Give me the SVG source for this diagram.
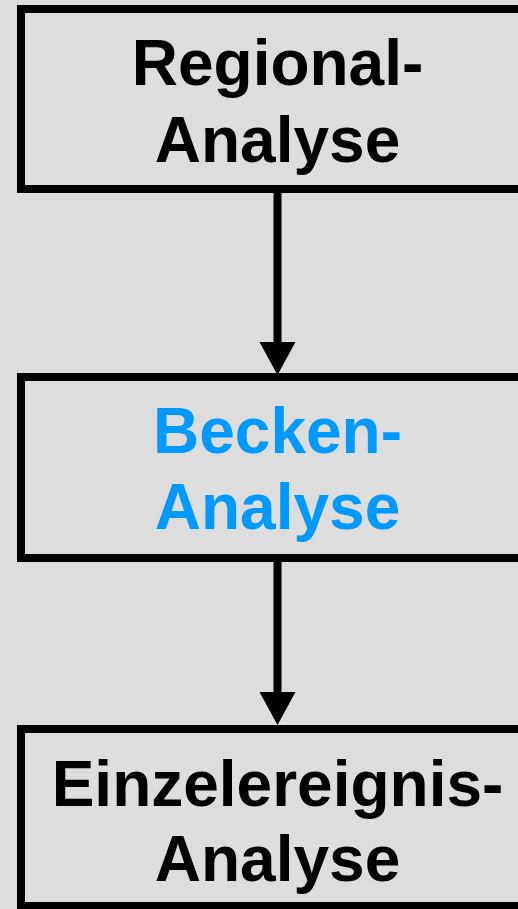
<svg xmlns="http://www.w3.org/2000/svg" width="518" height="909" viewBox="0 0 518 909">
  <style>
    .box { fill: #dddddd; stroke: #000000; stroke-width: 8; }
    .label { font-family: "Liberation Sans", Arial, Helvetica, sans-serif; font-weight: bold; font-size: 64px; text-anchor: middle; fill: #000000; }
    .label.hl { fill: #0099ff; }
    .edge { stroke: #000000; stroke-width: 8; fill: none; }
  </style>
  <defs>
    <marker id="arrow" markerUnits="userSpaceOnUse" markerWidth="40" markerHeight="40" viewBox="0 -20 36 40" refX="1" refY="0" orient="auto">
      <path d="M0,-18 L33,0 L0,18 z" fill="#000000"/>
    </marker>
  </defs>
  <rect width="518" height="909" fill="#dddddd"/>

  <g id="connectors">
    <line class="edge" x1="277.5" y1="193" x2="277.5" y2="343" marker-end="url(#arrow)"/>
    <line class="edge" x1="277.5" y1="562" x2="277.5" y2="693" marker-end="url(#arrow)"/>
  </g>

  <g id="regional-analyse">
    <rect class="box" x="21" y="9" width="540" height="180"/>
    <text class="label" x="277.5" y="85">Regional-</text>
    <text class="label" x="277.5" y="162">Analyse</text>
  </g>

  <g id="becken-analyse">
    <rect class="box" x="21" y="377" width="540" height="181"/>
    <text class="label hl" x="277.5" y="453">Becken-</text>
    <text class="label hl" x="277.5" y="529">Analyse</text>
  </g>

  <g id="einzelereignis-analyse">
    <rect class="box" x="21" y="729" width="540" height="177"/>
    <text class="label" x="277.5" y="806">Einzelereignis-</text>
    <text class="label" x="277.5" y="881">Analyse</text>
  </g>
</svg>
